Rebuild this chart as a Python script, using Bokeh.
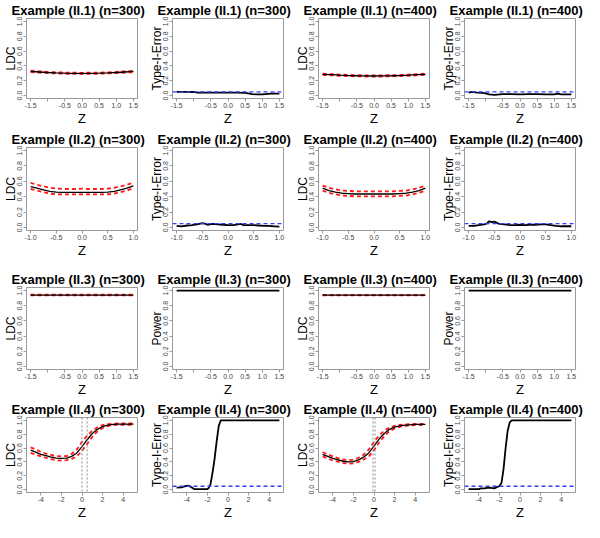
from bokeh.plotting import figure
from bokeh.layouts import gridplot
from bokeh.models import FixedTicker, Range1d, Span, CustomJSTickFormatter
from bokeh.embed import file_html
from bokeh.resources import INLINE

# ---------------- data ----------------
# Example II.1
z1 = [-1.5, -1.25, -1.0, -0.75, -0.5, -0.25, 0.0, 0.25, 0.5, 0.75, 1.0, 1.25, 1.5]
ldc1_300 = [0.325, 0.318, 0.311, 0.306, 0.302, 0.300, 0.299, 0.300, 0.302, 0.306, 0.311, 0.318, 0.325]
ldc1_300_up = [0.335, 0.327, 0.320, 0.314, 0.310, 0.308, 0.307, 0.308, 0.310, 0.314, 0.320, 0.327, 0.335]
ldc1_300_lo = [0.315, 0.309, 0.302, 0.298, 0.294, 0.292, 0.291, 0.292, 0.294, 0.298, 0.302, 0.309, 0.315]
ldc1_400 = [0.287, 0.281, 0.275, 0.270, 0.267, 0.265, 0.264, 0.265, 0.267, 0.270, 0.275, 0.281, 0.287]
ldc1_400_up = [0.295, 0.289, 0.283, 0.278, 0.275, 0.273, 0.272, 0.273, 0.275, 0.278, 0.283, 0.289, 0.295]
ldc1_400_lo = [0.279, 0.273, 0.267, 0.262, 0.259, 0.257, 0.256, 0.257, 0.259, 0.262, 0.267, 0.273, 0.279]

zt1_300 = [-1.5, -1.25, -1.0, -0.9, -0.75, -0.5, -0.25, 0.0, 0.25, 0.5, 0.6, 0.7, 0.85, 1.0, 1.1, 1.25, 1.5]
t1_300 = [0.05, 0.05, 0.048, 0.04, 0.04, 0.04, 0.04, 0.04, 0.04, 0.035, 0.03, 0.02, 0.015, 0.015, 0.02, 0.025, 0.025]
zt1_400 = [-1.5, -1.4, -1.25, -1.1, -1.0, -0.9, -0.75, -0.5, -0.25, 0.0, 0.25, 0.5, 0.75, 1.0, 1.1, 1.2, 1.5]
t1_400 = [0.04, 0.05, 0.04, 0.035, 0.03, 0.015, 0.01, 0.02, 0.02, 0.015, 0.02, 0.02, 0.015, 0.015, 0.025, 0.015, 0.015]

# Example II.2
z2 = [-1.0, -0.875, -0.75, -0.625, -0.5, -0.375, -0.25, -0.125, 0.0, 0.125, 0.25, 0.375, 0.5, 0.625, 0.75, 0.875, 1.0]
ldc2_300 = [0.53, 0.51, 0.49, 0.47, 0.46, 0.455, 0.455, 0.455, 0.455, 0.455, 0.455, 0.455, 0.46, 0.47, 0.49, 0.51, 0.54]
ldc2_300_up = [0.58, 0.555, 0.535, 0.515, 0.505, 0.50, 0.50, 0.50, 0.505, 0.50, 0.50, 0.50, 0.505, 0.515, 0.535, 0.555, 0.58]
ldc2_300_lo = [0.50, 0.48, 0.46, 0.44, 0.43, 0.43, 0.43, 0.43, 0.43, 0.43, 0.43, 0.43, 0.43, 0.44, 0.46, 0.48, 0.51]
ldc2_400 = [0.51, 0.48, 0.46, 0.445, 0.44, 0.435, 0.435, 0.435, 0.435, 0.435, 0.435, 0.435, 0.44, 0.445, 0.46, 0.48, 0.51]
ldc2_400_up = [0.545, 0.515, 0.495, 0.48, 0.475, 0.47, 0.47, 0.47, 0.47, 0.47, 0.47, 0.47, 0.475, 0.48, 0.495, 0.515, 0.545]
ldc2_400_lo = [0.48, 0.45, 0.43, 0.415, 0.41, 0.405, 0.405, 0.405, 0.405, 0.405, 0.405, 0.405, 0.41, 0.415, 0.43, 0.45, 0.48]

zt2_300 = [-1.0, -0.9, -0.8, -0.7, -0.6, -0.5, -0.45, -0.4, -0.3, -0.2, -0.1, 0.0, 0.1, 0.2, 0.25, 0.3, 0.4, 0.5, 0.6, 0.7, 0.8, 0.9, 1.0]
t2_300 = [0.02, 0.015, 0.025, 0.03, 0.04, 0.055, 0.05, 0.035, 0.045, 0.04, 0.035, 0.03, 0.03, 0.04, 0.045, 0.03, 0.03, 0.03, 0.025, 0.02, 0.02, 0.015, 0.01]
zt2_400 = [-1.0, -0.9, -0.8, -0.7, -0.65, -0.6, -0.55, -0.5, -0.45, -0.4, -0.3, -0.2, -0.1, 0.0, 0.1, 0.2, 0.3, 0.4, 0.5, 0.6, 0.7, 0.8, 0.9, 1.0]
t2_400 = [0.02, 0.02, 0.03, 0.04, 0.05, 0.08, 0.07, 0.075, 0.06, 0.045, 0.04, 0.03, 0.03, 0.035, 0.03, 0.035, 0.035, 0.04, 0.04, 0.03, 0.02, 0.015, 0.015, 0.015]

# Example II.3
z3 = [-1.5, -1.0, -0.5, 0.0, 0.5, 1.0, 1.5]
ldc3_300 = [0.94, 0.94, 0.94, 0.94, 0.94, 0.94, 0.94]
ldc3_300_up = [0.945, 0.945, 0.945, 0.945, 0.945, 0.945, 0.945]
ldc3_300_lo = [0.935, 0.935, 0.935, 0.935, 0.935, 0.935, 0.935]
ldc3_400 = [0.94, 0.94, 0.94, 0.94, 0.94, 0.94, 0.94]
ldc3_400_up = [0.944, 0.944, 0.944, 0.944, 0.944, 0.944, 0.944]
ldc3_400_lo = [0.936, 0.936, 0.936, 0.936, 0.936, 0.936, 0.936]
pow3_300 = [1.0, 1.0, 1.0, 1.0, 1.0, 1.0, 1.0]
pow3_400 = [1.0, 1.0, 1.0, 1.0, 1.0, 1.0, 1.0]

# Example II.4
z4 = [-5, -4.5, -4, -3.5, -3, -2.5, -2, -1.5, -1, -0.5, 0, 0.5, 1, 1.5, 2, 2.5, 3, 3.5, 4, 4.5, 5]
ldc4_300 = [0.57, 0.54, 0.51, 0.49, 0.47, 0.455, 0.45, 0.455, 0.48, 0.53, 0.62, 0.72, 0.81, 0.87, 0.91, 0.93, 0.94, 0.945, 0.945, 0.945, 0.945]
ldc4_300_up = [0.61, 0.58, 0.545, 0.52, 0.50, 0.485, 0.48, 0.485, 0.515, 0.58, 0.69, 0.78, 0.85, 0.90, 0.93, 0.945, 0.95, 0.955, 0.955, 0.955, 0.955]
ldc4_300_lo = [0.53, 0.505, 0.48, 0.46, 0.44, 0.425, 0.42, 0.425, 0.445, 0.48, 0.56, 0.66, 0.76, 0.84, 0.89, 0.915, 0.93, 0.935, 0.935, 0.935, 0.935]
ldc4_400 = [0.51, 0.48, 0.45, 0.43, 0.41, 0.40, 0.405, 0.43, 0.47, 0.53, 0.63, 0.73, 0.81, 0.87, 0.90, 0.92, 0.93, 0.935, 0.94, 0.94, 0.94]
ldc4_400_up = [0.54, 0.51, 0.48, 0.455, 0.435, 0.425, 0.43, 0.46, 0.505, 0.58, 0.69, 0.78, 0.85, 0.895, 0.92, 0.935, 0.94, 0.945, 0.948, 0.948, 0.948]
ldc4_400_lo = [0.48, 0.45, 0.42, 0.405, 0.385, 0.375, 0.38, 0.40, 0.435, 0.48, 0.57, 0.68, 0.77, 0.845, 0.88, 0.905, 0.92, 0.925, 0.932, 0.932, 0.932]
vline4_300 = [0.0, 0.5]
vline4_400 = [-0.1, 0.1]

zt4_300 = [-5, -4.5, -4.2, -3.9, -3.6, -3.3, -3.0, -2.5, -2.0, -1.9, -1.7, -1.5, -1.3, -1.1, -0.9, -0.7, 0, 1, 2, 3, 4, 5]
t4_300 = [0.03, 0.035, 0.05, 0.06, 0.04, 0.01, 0.01, 0.01, 0.01, 0.02, 0.08, 0.25, 0.45, 0.7, 0.92, 1.0, 1.0, 1.0, 1.0, 1.0, 1.0, 1.0]
zt4_400 = [-5, -4.5, -4.0, -3.8, -3.5, -3.0, -2.5, -2.2, -2.0, -1.8, -1.6, -1.4, -1.2, -1.0, -0.8, 0, 1, 2, 3, 4, 5]
t4_400 = [0.01, 0.01, 0.01, 0.02, 0.02, 0.03, 0.02, 0.04, 0.05, 0.1, 0.3, 0.6, 0.85, 0.97, 1.0, 1.0, 1.0, 1.0, 1.0, 1.0, 1.0]

alpha_level = 0.05

xticks_a = [-1.5, -1.0, -0.5, 0.0, 0.5, 1.0, 1.5]
xticks_b = [-1.0, -0.5, 0.0, 0.5, 1.0]
xticks_c = [-4, -2, 0, 2, 4]
yticks = [0.0, 0.2, 0.4, 0.6, 0.8, 1.0]

# ---------------- layout ----------------
W = 146
ROW_H = [128, 141, 130, 123]
ROW_TOP = [16, 19, 17, 17]
FRAME_H = 83
FONT = "Liberation Sans"


def make_panel(title, ylabel, xlim, xticks, xfmt, row):
    h = ROW_H[row]
    top = ROW_TOP[row]
    p = figure(width=W, height=h, x_range=Range1d(*xlim), y_range=Range1d(-0.04, 1.04),
               output_backend="svg", toolbar_location=None, tools="",
               min_border_left=22, min_border_right=9, min_border_top=top,
               min_border_bottom=h - top - FRAME_H)
    p.title.text = title
    p.title.text_font = FONT
    p.title.text_font_size = "13px"
    p.title.text_font_style = "bold"
    p.title.text_color = "black"
    p.title.align = "left"
    p.title.offset = -15
    p.title.standoff = 1
    p.outline_line_color = "#9a9a9a"
    p.outline_line_width = 1
    p.grid.visible = False
    p.background_fill_color = "white"
    p.border_fill_color = "white"
    for ax in (p.xaxis[0], p.yaxis[0]):
        ax.axis_line_color = None
        ax.major_tick_line_color = "#9a9a9a"
        ax.major_tick_out = 3
        ax.major_tick_in = 0
        ax.minor_tick_line_color = None
        ax.major_label_text_font = FONT
        ax.major_label_text_font_size = "7px"
        ax.major_label_text_color = "#444444"
        ax.major_label_standoff = 1
        ax.axis_label_text_font = FONT
        ax.axis_label_text_font_style = "normal"
        ax.axis_label_text_color = "black"
    p.xaxis.ticker = FixedTicker(ticks=xticks)
    p.xaxis.formatter = CustomJSTickFormatter(code=xfmt)
    p.xaxis.axis_label = "Z"
    p.xaxis.axis_label_text_font_size = "13px"
    p.xaxis.axis_label_standoff = 0
    p.yaxis.ticker = FixedTicker(ticks=yticks)
    p.yaxis.formatter = CustomJSTickFormatter(code="return tick.toFixed(1);")
    p.yaxis.major_label_orientation = "vertical"
    p.yaxis.axis_label = ylabel
    p.yaxis.axis_label_text_font_size = "12px"
    p.yaxis.axis_label_standoff = -3
    return p


fmt_a = "return (Math.abs(tick + 1) < 1e-9) ? '' : tick.toFixed(1);"
fmt_b = "return tick.toFixed(1);"
fmt_c = "return tick.toFixed(0);"

XL_A = (-1.62, 1.62)
XL_B = (-1.08, 1.08)
XL_C = (-5.4, 5.4)

RED = "#ff1a1a"
BLUE = "#3b3bff"


def ldc_panel(title, row, xlim, xticks, xfmt, z, mid, up, lo, vlines=None):
    p = make_panel(title, "LDC", xlim, xticks, xfmt, row)
    if vlines:
        for v in vlines:
            p.add_layout(Span(location=v, dimension="height", line_color="#8c8c8c",
                              line_dash="2 2", line_width=1))
    p.line(z, up, line_color=RED, line_dash="4 3", line_width=1.8)
    p.line(z, lo, line_color=RED, line_dash="4 3", line_width=1.8)
    p.line(z, mid, line_color="black", line_width=1.3)
    return p


def err_panel(title, row, xlim, xticks, xfmt, z, y, ylabel="Type-I-Error", show_alpha=True):
    p = make_panel(title, ylabel, xlim, xticks, xfmt, row)
    p.line(z, y, line_color="black", line_width=1.8)
    if show_alpha:
        p.add_layout(Span(location=alpha_level, dimension="width", line_color=BLUE,
                          line_dash="4 3", line_width=1.4))
    return p


panels = [
    [
        ldc_panel("Example (II.1) (n=300)", 0, XL_A, xticks_a, fmt_a, z1, ldc1_300, ldc1_300_up, ldc1_300_lo),
        err_panel("Example (II.1) (n=300)", 0, XL_A, xticks_a, fmt_a, zt1_300, t1_300),
        ldc_panel("Example (II.1) (n=400)", 0, XL_A, xticks_a, fmt_a, z1, ldc1_400, ldc1_400_up, ldc1_400_lo),
        err_panel("Example (II.1) (n=400)", 0, XL_A, xticks_a, fmt_a, zt1_400, t1_400),
    ],
    [
        ldc_panel("Example (II.2) (n=300)", 1, XL_B, xticks_b, fmt_b, z2, ldc2_300, ldc2_300_up, ldc2_300_lo),
        err_panel("Example (II.2) (n=300)", 1, XL_B, xticks_b, fmt_b, zt2_300, t2_300),
        ldc_panel("Example (II.2) (n=400)", 1, XL_B, xticks_b, fmt_b, z2, ldc2_400, ldc2_400_up, ldc2_400_lo),
        err_panel("Example (II.2) (n=400)", 1, XL_B, xticks_b, fmt_b, zt2_400, t2_400),
    ],
    [
        ldc_panel("Example (II.3) (n=300)", 2, XL_A, xticks_a, fmt_a, z3, ldc3_300, ldc3_300_up, ldc3_300_lo),
        err_panel("Example (II.3) (n=300)", 2, XL_A, xticks_a, fmt_a, z3, pow3_300, ylabel="Power", show_alpha=False),
        ldc_panel("Example (II.3) (n=400)", 2, XL_A, xticks_a, fmt_a, z3, ldc3_400, ldc3_400_up, ldc3_400_lo),
        err_panel("Example (II.3) (n=400)", 2, XL_A, xticks_a, fmt_a, z3, pow3_400, ylabel="Power", show_alpha=False),
    ],
    [
        ldc_panel("Example (II.4) (n=300)", 3, XL_C, xticks_c, fmt_c, z4, ldc4_300, ldc4_300_up, ldc4_300_lo, vline4_300),
        err_panel("Example (II.4) (n=300)", 3, XL_C, xticks_c, fmt_c, zt4_300, t4_300),
        ldc_panel("Example (II.4) (n=400)", 3, XL_C, xticks_c, fmt_c, z4, ldc4_400, ldc4_400_up, ldc4_400_lo, vline4_400),
        err_panel("Example (II.4) (n=400)", 3, XL_C, xticks_c, fmt_c, zt4_400, t4_400),
    ],
]

grid = gridplot(panels, toolbar_location=None)

open("out.html", "w").write(file_html(grid, INLINE))
